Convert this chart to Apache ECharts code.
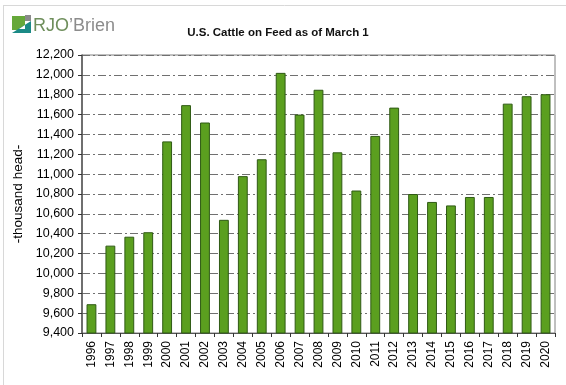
<!DOCTYPE html>
<html>
<head>
<meta charset="utf-8">
<script src="https://cdn.jsdelivr.net/npm/echarts@6/dist/echarts.min.js"></script>
<style>
html,body{margin:0;padding:0;background:#fff;}
#c{width:566px;height:385px;}
</style>
</head>
<body>
<div id="c"></div>
<script>
const years = ['1996','1997','1998','1999','2000','2001','2002','2003','2004','2005','2006','2007','2008','2009','2010','2011','2012','2013','2014','2015','2016','2017','2018','2019','2020'];
const cattleOnFeed = [9690,10280,10370,10415,11330,11695,11520,10540,10980,11150,12020,11600,11850,11220,10835,11385,11670,10800,10720,10685,10770,10770,11710,11785,11805];
const yTicks = {min: 9400, max: 12200, interval: 200};
const titleText = 'U.S. Cattle on Feed as of March 1';
const yName = '-thousand head-';

const chart = echarts.init(document.getElementById('c'), null, {renderer: 'canvas'});
chart.setOption({
  backgroundColor: '#fff',
  animation: false,
  title: {
    text: titleText,
    left: 273, top: 22, textAlign: 'center',
    textStyle: {fontFamily: 'Arial, Liberation Sans', fontSize: 11.5, fontWeight: 'bold', color: '#111'}
  },
  grid: {left: 82, right: 11, top: 55, bottom: 52, show: true, borderColor: '#808080', borderWidth: 1, backgroundColor: '#fff'},
  xAxis: {
    type: 'category',
    data: years,
    axisLine: {lineStyle: {color: '#555', width: 1}},
    axisTick: {show: true, interval: 0, length: 4, lineStyle: {color: '#333'}},
    axisLabel: {rotate: 90, interval: 0, margin: 8, fontFamily: 'Arial, Liberation Sans', fontSize: 12, color: '#000'}
  },
  yAxis: {
    type: 'value',
    min: yTicks.min, max: yTicks.max, interval: yTicks.interval,
    name: yName, nameLocation: 'middle', nameGap: 47, nameRotate: 90,
    nameTextStyle: {fontFamily: 'Arial, Liberation Sans', fontSize: 13.5, color: '#000'},
    axisLine: {show: true, lineStyle: {color: '#555', width: 1.5}},
    axisTick: {show: true, length: 4, lineStyle: {color: '#333'}},
    axisLabel: {margin: 8, fontFamily: 'Arial, Liberation Sans', fontSize: 12.5, color: '#000',
      formatter: v => v.toLocaleString('en-US')},
    splitLine: {show: true, lineStyle: {color: '#707070', width: 1, type: [8,3,2,3]}}
  },
  series: [{
    type: 'bar',
    data: cattleOnFeed,
    barWidth: '52%',
    itemStyle: {color: '#5b9f1f', borderColor: '#2f5a14', borderWidth: 1}
  }],
  graphic: [
    {type: 'line', shape: {x1: 3, y1: 5.5, x2: 566, y2: 5.5}, style: {stroke: '#d8d8d8', lineWidth: 1}},
    {type: 'line', shape: {x1: 3.5, y1: 5, x2: 3.5, y2: 385}, style: {stroke: '#d8d8d8', lineWidth: 1}},
    {type: 'rect', shape: {x: 12, y: 16, width: 13, height: 14}, style: {fill: '#66a83a'}},
    {type: 'rect', shape: {x: 25, y: 15, width: 6, height: 6}, style: {fill: '#8a8a8a'}},
    {type: 'polygon', shape: {points: [[12, 33], [31, 21], [31, 33]]}, style: {fill: '#1b8a86'}},
    {type: 'polygon', shape: {points: [[19, 29], [25, 25], [25, 29]]}, style: {fill: '#fff'}},
    {type: 'text', left: 33, top: 17, style: {
      text: '{a|RJO}{b|\u2019Brien}',
      rich: {
        a: {fontFamily: 'Liberation Sans, Arial', fontSize: 18, fill: '#6f8f5c', color: '#6f8f5c'},
        b: {fontFamily: 'Liberation Sans, Arial', fontSize: 18, fill: '#8c8c8c', color: '#8c8c8c'}
      }
    }}
  ]
});
</script>
</body>
</html>
